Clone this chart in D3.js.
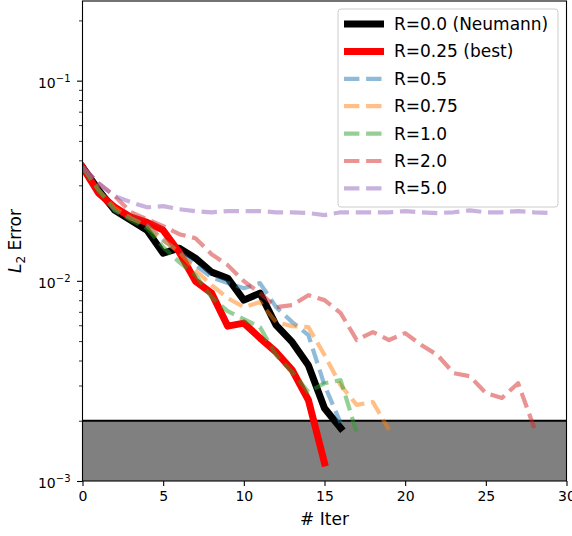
<!DOCTYPE html>
<html>
<head>
<meta charset="utf-8">
<script src="https://cdn.jsdelivr.net/npm/d3@7"></script>
<style>
  body { margin: 0; background: #fff; }
  text { font-family: "DejaVu Sans", sans-serif; fill: #000; }
</style>
</head>
<body>
<div id="chart"></div>
<script>
// DATA (L2 error per iteration)
const labels = ["R=0.0 (Neumann)", "R=0.25 (best)", "R=0.5", "R=0.75", "R=1.0", "R=2.0", "R=5.0"];
const errR00 = [0.0370, 0.0284, 0.0225, 0.0201, 0.0179, 0.01375, 0.01456, 0.01298, 0.01105, 0.01031, 0.00801, 0.00868, 0.00601, 0.00494, 0.00379, 0.00231, 0.00184];
const errR025 = [0.0370, 0.0274, 0.0233, 0.0208, 0.0196, 0.0179, 0.0139, 0.00997, 0.00868, 0.00594, 0.00615, 0.00518, 0.00441, 0.00358, 0.00254, 0.00123];
const errR05 = [0.0370, 0.0284, 0.0225, 0.0206, 0.0190, 0.0160, 0.0139, 0.0120, 0.0104, 0.00974, 0.00919, 0.00974, 0.00739, 0.00622, 0.00536, 0.00301, 0.00195];
const errR075 = [0.0370, 0.0284, 0.0231, 0.0206, 0.01875, 0.0160, 0.0139, 0.0113, 0.00952, 0.0082, 0.00739, 0.00783, 0.00622, 0.00594, 0.00587, 0.00426, 0.00301, 0.0024, 0.00248, 0.0018];
const errR10 = [0.0370, 0.0284, 0.0225, 0.0201, 0.0183, 0.01473, 0.0124, 0.01068, 0.00829, 0.00706, 0.00644, 0.00587, 0.00426, 0.0035, 0.00278, 0.00308, 0.00319, 0.00174];
const errR20 = [0.0370, 0.0307, 0.0265, 0.0220, 0.0203, 0.01875, 0.0171, 0.01633, 0.01359, 0.01198, 0.00997, 0.00868, 0.00739, 0.00756, 0.00848, 0.00801, 0.0069, 0.00506, 0.00555, 0.00506, 0.00548, 0.00478, 0.00426, 0.00346, 0.00334, 0.00275, 0.0026, 0.00308, 0.00184];
const errR50 = [0.0370, 0.0307, 0.0265, 0.0247, 0.0233, 0.0236, 0.0228, 0.0223, 0.0220, 0.0223, 0.0223, 0.0223, 0.0220, 0.0220, 0.0218, 0.0213, 0.0220, 0.0220, 0.0220, 0.0220, 0.0223, 0.0220, 0.0218, 0.0220, 0.0225, 0.0220, 0.0220, 0.0223, 0.0220, 0.0218];
const xTicks = [0, 5, 10, 15, 20, 25, 30];
const yMajorTicks = [1e-3, 1e-2, 1e-1];
const yTickExps = ["\u22123", "\u22122", "\u22121"];
const threshold = 2e-3;

const series = [errR00, errR025, errR05, errR075, errR10, errR20, errR50];
const colors = ["#000000", "#ff0000", "#1f77b4", "#ff7f0e", "#2ca02c", "#d62728", "#9467bd"];

const WIDTH = 572, HEIGHT = 536;
const MARGIN = { LEFT: 82.5, RIGHT: 5.5, TOP: 1, BOTTOM: 55 };
const W = WIDTH - MARGIN.LEFT - MARGIN.RIGHT;
const H = HEIGHT - MARGIN.TOP - MARGIN.BOTTOM;

const svg = d3.select("#chart").append("svg")
  .attr("width", WIDTH)
  .attr("height", HEIGHT);

const g = svg.append("g")
  .attr("transform", `translate(${MARGIN.LEFT}, ${MARGIN.TOP})`);

let x = d3.scaleLinear().domain([0, 30]).range([0, W]);
let y = d3.scaleLog().domain([1e-3, 0.25]).range([H, 0]);

g.append("defs").append("clipPath").attr("id", "clip")
  .append("rect").attr("width", W).attr("height", H);

// shaded region below threshold
g.append("rect")
  .attr("x", 0)
  .attr("y", y(threshold))
  .attr("width", W)
  .attr("height", y(1e-3) - y(threshold))
  .attr("fill", "#808080");

g.append("line")
  .attr("x1", 0).attr("x2", W)
  .attr("y1", y(threshold)).attr("y2", y(threshold))
  .attr("stroke", "#000")
  .attr("stroke-width", 2);

// LINES
const line = d3.line()
  .x((d, i) => x(i))
  .y((d) => y(d));

const lines = g.append("g").attr("clip-path", "url(#clip)");
series.forEach((s, k) => {
  const solid = k < 2;
  lines.append("path")
    .datum(s)
    .attr("d", line)
    .attr("fill", "none")
    .attr("stroke", colors[k])
    .attr("stroke-opacity", solid ? 1 : 0.5)
    .attr("stroke-width", solid ? 7 : 4.2)
    .attr("stroke-dasharray", solid ? null : "15.4,6.7")
    .attr("stroke-linejoin", "round")
    .attr("stroke-linecap", solid ? "square" : "butt");
});

// AXIS
const xAxis = g.append("g")
  .attr("transform", `translate(0, ${H})`)
  .call(d3.axisBottom(x).tickValues(xTicks).tickSize(5).tickPadding(5))
  .call((a) => a.select(".domain").remove());
xAxis.selectAll("text").attr("font-size", "14px").attr("font-family", "DejaVu Sans");
xAxis.selectAll("line").attr("stroke-width", 1.1);

const minorTicks = [];
[1e-3, 1e-2, 1e-1].forEach((d) => {
  for (let m = 2; m <= 9; m++) if (d * m <= 0.25) minorTicks.push(d * m);
});
const yAxis = g.append("g")
  .call(d3.axisLeft(y).tickValues(minorTicks).tickSize(3.5).tickFormat(""))
  .call((a) => a.select(".domain").remove());
yAxis.selectAll("line").attr("stroke-width", 0.8);

const yMajor = g.append("g")
  .call(d3.axisLeft(y).tickValues(yMajorTicks).tickSize(5.5).tickFormat(""))
  .call((a) => a.select(".domain").remove());
yMajor.selectAll("line").attr("stroke-width", 1.1);

yMajorTicks.forEach((d, i) => {
  const t = g.append("text")
    .attr("x", -12)
    .attr("y", y(d) + 7)
    .attr("text-anchor", "end")
    .attr("font-size", "14px");
  t.append("tspan").text("10");
  t.append("tspan").attr("dy", -6).attr("font-size", "10px").text(yTickExps[i]);
});

// frame
g.append("rect")
  .attr("width", W).attr("height", H)
  .attr("fill", "none")
  .attr("stroke", "#000")
  .attr("stroke-width", 1.1);

// LABEL
g.append("text")
  .attr("x", W / 2)
  .attr("y", H + 44)
  .attr("text-anchor", "middle")
  .attr("font-size", "17px")
  .text("# Iter");

const yLabel = g.append("text")
  .attr("transform", `translate(${-62}, ${H / 2}) rotate(-90)`)
  .attr("text-anchor", "middle")
  .attr("font-size", "17px");
yLabel.append("tspan").attr("font-style", "italic").text("L");
yLabel.append("tspan").attr("font-size", "12px").attr("dy", 4).text("2");
yLabel.append("tspan").attr("dy", -4).text(" Error");

// LEGEND
const legend = svg.append("g").attr("transform", "translate(338, 9)");
legend.append("rect")
  .attr("width", 220).attr("height", 198)
  .attr("rx", 3)
  .attr("fill", "#fff").attr("fill-opacity", 0.8)
  .attr("stroke", "#cccccc").attr("stroke-width", 1);

labels.forEach((lab, k) => {
  const solid = k < 2;
  const yy = 15 + k * 27.4;
  legend.append("line")
    .attr("x1", 6).attr("x2", 46)
    .attr("y1", yy).attr("y2", yy)
    .attr("stroke", colors[k])
    .attr("stroke-opacity", solid ? 1 : 0.5)
    .attr("stroke-width", solid ? 7 : 4.2)
    .attr("stroke-dasharray", solid ? null : "15.4,6.7")
    .attr("stroke-linecap", "butt");
  legend.append("text")
    .attr("x", 56)
    .attr("y", yy + 6)
    .attr("font-size", "17px")
    .text(lab);
});
</script>
</body>
</html>
